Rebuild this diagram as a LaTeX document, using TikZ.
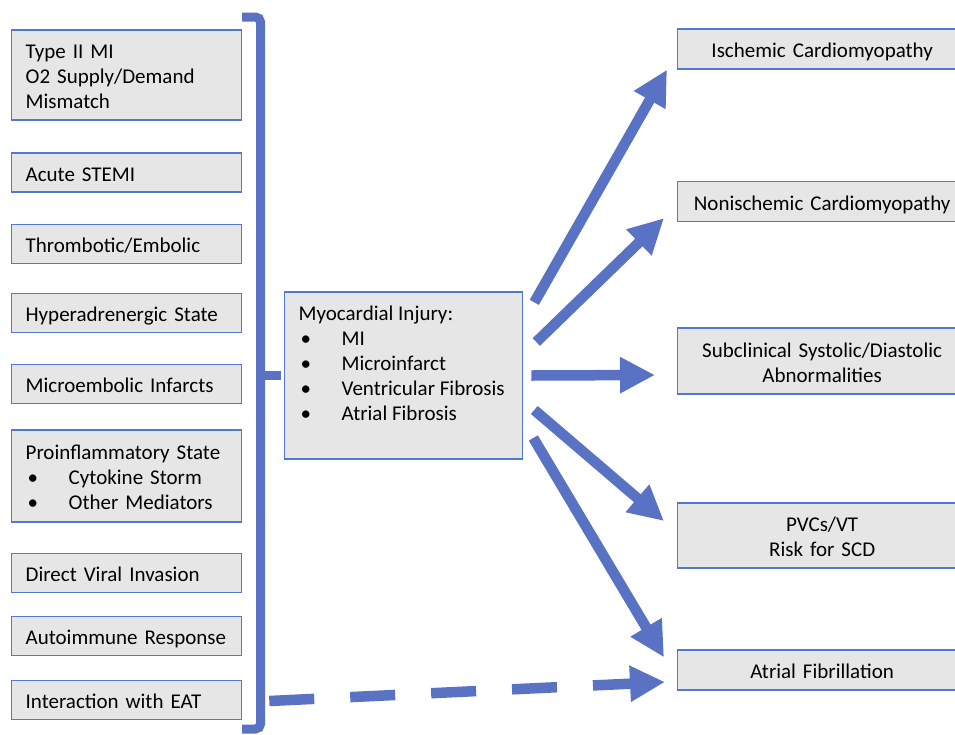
\documentclass[tikz,border=0pt]{standalone}
\usepackage{fontspec}
\setmainfont{Carlito}
\usetikzlibrary{arrows.meta,calc}
\definecolor{boxfill}{HTML}{E7E6E6}
\definecolor{boxline}{HTML}{5279D2}
\definecolor{arrowblue}{HTML}{5A72C3}
\newcommand{\bul}[1]{\makebox[43pt][l]{\hspace{2pt}\textbullet}#1}

\begin{document}
\begin{tikzpicture}[
                x=1pt,y=-1pt,
                font=\fontsize{21}{25}\selectfont,
                boxed/.style={draw=boxline,fill=boxfill,line width=1.3pt,anchor=west,execute at begin node={\rule{0pt}{22.5pt}},execute at end node={\rule[-5pt]{0pt}{5pt}}},
                cause/.style={boxed,inner xsep=14pt,inner ysep=0pt,text width=202pt,align=left,minimum height=39pt},
                outcome/.style={boxed,inner sep=0pt,text width=289pt,align=center,minimum height=40pt},
                injurybox/.style={draw=boxline,fill=boxfill,line width=1.3pt,anchor=west,inner sep=14pt},
                fat/.style={draw=arrowblue,line width=10.5pt,-{Triangle[length=35pt,width=34pt]}}
                ]
                \useasboundingbox (0,0) rectangle (955,734);
                \node[cause,minimum height=90pt] (typeii) at (11,75) {Type II MI\\O2 Supply/Demand\\Mismatch};
                \node[cause] (stemi) at (11,172.5) {Acute STEMI};
                \node[cause] (thrombo) at (11,244) {Thrombotic/Embolic};
                \node[cause] (hyper) at (11,313) {Hyperadrenergic State};
                \node[cause] (microemb) at (11,384) {Microembolic Infarcts};
                \node[cause,minimum height=92pt] (proinfl) at (11,476) {Proinflammatory State\\\bul{Cytokine Storm}\\\bul{Other Mediators}};
                \node[cause] (viral) at (11,573) {Direct Viral Invasion};
                \node[cause] (autoimm) at (11,636) {Autoimmune Response};
                \node[cause] (eat) at (11,700) {Interaction with EAT};
                \draw[arrowblue,line width=9pt,rounded corners=5pt] (242,17) -- (260.5,17) -- (260.5,729) -- (242,729);
                \draw[arrowblue,line width=9pt] (260.5,375) -- (281,375);
                \node[injurybox] (injury) at (284,375.5) {\parbox[c][139pt][t]{210pt}{Myocardial Injury:\\\bul{MI}\\\bul{Microinfarct}\\\bul{Ventricular Fibrosis}\\\bul{Atrial Fibrosis}}};
                \node[outcome] (ischemic) at (677,49) {Ischemic Cardiomyopathy};
                \node[outcome] (nonisch) at (677,201.5) {Nonischemic Cardiomyopathy};
                \node[outcome,minimum height=66pt] (subclin) at (677,361) {Subclinical Systolic/Diastolic\\Abnormalities};
                \node[outcome,minimum height=65pt] (pvcs) at (677,535.5) {PVCs/VT\\Risk for SCD};
                \node[outcome] (afib) at (677,670) {Atrial Fibrillation};
                \draw[fat] ($(injury.north east)+(11,11)$) -- ($(ischemic.south west)+(-10,0)$);
                \draw[fat] ($(injury.east)+(13,-33.5)$) -- ($(nonisch.south west)+(-13,-4)$);
                \draw[fat] ($(injury.east)+(8,0)$) -- ($(subclin.west)+(-22,14)$);
                \draw[fat] ($(injury.east)+(11,34.5)$) -- ($(pvcs.west)+(-13,-14.5)$);
                \draw[fat] ($(injury.east)+(10,62.5)$) -- ($(afib.north west)+(-13,8)$);
                \draw[fat,dash pattern=on 45pt off 36pt] ($(eat.east)+(27,1)$) -- ($(afib.west)+(-12,12)$);
\end{tikzpicture}
\end{document}
